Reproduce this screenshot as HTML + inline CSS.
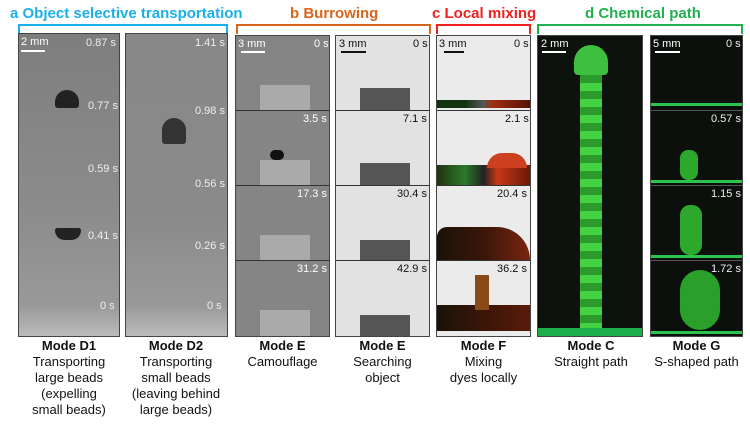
<!DOCTYPE html>
<html><head><meta charset="utf-8"><style>
body{margin:0;width:750px;height:425px;background:#fff;position:relative;overflow:hidden;font-family:"Liberation Sans",Arial,sans-serif}
div{position:absolute;box-sizing:border-box}
.t{font-weight:bold;font-size:15px;white-space:nowrap}
.br{height:10px;border:2px solid;border-bottom:none;top:24px}
.p{border:1px solid #444}
.s{font-size:11px;white-space:nowrap}
.lab{font-size:13px;text-align:center;line-height:16px;top:338px;color:#111}
.lab b{display:block}
.sb{height:2px}
</style></head><body>
<div class="t" style="left:10px;top:5px;color:#1ab0ec">a Object selective transportation</div>
<div class="t" style="left:290px;top:5px;color:#d8651c">b Burrowing</div>
<div class="t" style="left:432px;top:5px;color:#ee2020">c Local mixing</div>
<div class="t" style="left:585px;top:5px;color:#20b050">d Chemical path</div>
<div class="br" style="left:18px;width:210px;border-color:#1ab0ec"></div>
<div class="br" style="left:236px;width:195px;border-color:#d8651c"></div>
<div class="br" style="left:436px;width:95px;border-color:#ee2020"></div>
<div class="br" style="left:537px;width:206px;border-color:#20b050"></div>

<!-- a -->
<div class="p" style="left:18px;top:33px;width:102px;height:304px;background:linear-gradient(#7e7e7e,#8c8c8c 60%,#999 90%,#bbb)"></div>
<div class="p" style="left:125px;top:33px;width:103px;height:304px;background:linear-gradient(#888,#8a8a8a 60%,#999 90%,#bbb)"></div>
<div class="s" style="left:21px;top:36px;color:#fff">2 mm</div><div class="sb" style="left:21px;top:50px;width:24px;background:#fff"></div>
<div class="s" style="left:86px;top:37px;color:#eee">0.87 s</div>
<div class="s" style="left:88px;top:100px;color:#eee">0.77 s</div>
<div class="s" style="left:88px;top:163px;color:#eee">0.59 s</div>
<div class="s" style="left:88px;top:230px;color:#eee">0.41 s</div>
<div class="s" style="left:100px;top:300px;color:#eee">0 s</div>
<div class="s" style="left:195px;top:37px;color:#eee">1.41 s</div>
<div class="s" style="left:195px;top:105px;color:#eee">0.98 s</div>
<div class="s" style="left:195px;top:178px;color:#eee">0.56 s</div>
<div class="s" style="left:195px;top:240px;color:#eee">0.26 s</div>
<div class="s" style="left:207px;top:300px;color:#eee">0 s</div>
<div style="left:55px;top:90px;width:24px;height:18px;background:#222;border-radius:12px 12px 3px 3px"></div>
<div style="left:55px;top:228px;width:26px;height:12px;background:#222;border-radius:3px 3px 12px 12px"></div>
<div style="left:162px;top:118px;width:24px;height:26px;background:#333;border-radius:12px 12px 3px 3px"></div>

<!-- b -->
<div class="p" style="left:235px;top:35px;width:95px;height:302px;background:#858585"></div>
<div style="left:236px;top:110px;width:93px;height:1px;background:#333"></div>
<div style="left:236px;top:185px;width:93px;height:1px;background:#333"></div>
<div style="left:236px;top:260px;width:93px;height:1px;background:#333"></div>
<div style="left:260px;top:85px;width:50px;height:25px;background:#aaa"></div>
<div style="left:260px;top:160px;width:50px;height:25px;background:#aaa"></div>
<div style="left:260px;top:235px;width:50px;height:25px;background:#aaa"></div>
<div style="left:260px;top:310px;width:50px;height:26px;background:#aaa"></div>
<div style="left:270px;top:150px;width:14px;height:10px;background:#111;border-radius:6px"></div>
<div class="s" style="left:238px;top:38px;color:#fff">3 mm</div><div class="sb" style="left:241px;top:51px;width:24px;background:#fff"></div>
<div class="s" style="left:314px;top:38px;color:#fff">0 s</div>
<div class="s" style="left:303px;top:113px;color:#fff">3.5 s</div>
<div class="s" style="left:297px;top:188px;color:#fff">17.3 s</div>
<div class="s" style="left:297px;top:263px;color:#fff">31.2 s</div>

<div class="p" style="left:335px;top:35px;width:95px;height:302px;background:#e2e2e2"></div>
<div style="left:336px;top:110px;width:93px;height:1px;background:#333"></div>
<div style="left:336px;top:185px;width:93px;height:1px;background:#333"></div>
<div style="left:336px;top:260px;width:93px;height:1px;background:#333"></div>
<div style="left:360px;top:88px;width:50px;height:22px;background:#555"></div>
<div style="left:360px;top:163px;width:50px;height:22px;background:#555"></div>
<div style="left:360px;top:240px;width:50px;height:20px;background:#555"></div>
<div style="left:360px;top:315px;width:50px;height:21px;background:#555"></div>
<div class="s" style="left:339px;top:38px;color:#111">3 mm</div><div class="sb" style="left:341px;top:51px;width:25px;background:#111"></div>
<div class="s" style="left:413px;top:38px;color:#111">0 s</div>
<div class="s" style="left:403px;top:113px;color:#111">7.1 s</div>
<div class="s" style="left:397px;top:188px;color:#111">30.4 s</div>
<div class="s" style="left:397px;top:263px;color:#111">42.9 s</div>

<!-- c -->
<div class="p" style="left:436px;top:35px;width:95px;height:302px;background:#ebebeb"></div>
<div style="left:437px;top:110px;width:93px;height:1px;background:#333"></div>
<div style="left:437px;top:185px;width:93px;height:1px;background:#333"></div>
<div style="left:437px;top:260px;width:93px;height:1px;background:#333"></div>
<div style="left:437px;top:100px;width:93px;height:8px;background:linear-gradient(90deg,#113311 30%,#555 50%,#a03010 60%,#551108)"></div>
<div style="left:437px;top:165px;width:93px;height:20px;background:linear-gradient(90deg,#223311,#2a7a2a 30%,#222 50%,#c83818 65%,#6a1808)"></div>
<div style="left:487px;top:153px;width:40px;height:15px;background:#cc4020;border-radius:18px 18px 0 0"></div>
<div style="left:437px;top:227px;width:93px;height:33px;background:linear-gradient(90deg,#1a1208,#3a1608 50%,#7a2410);border-radius:12px 40px 0 0"></div>
<div style="left:437px;top:305px;width:93px;height:26px;background:linear-gradient(90deg,#1a1208,#3a1608 50%,#5a1a08)"></div>
<div style="left:475px;top:275px;width:14px;height:35px;background:#8a4a18"></div>
<div class="s" style="left:439px;top:38px;color:#111">3 mm</div><div class="sb" style="left:444px;top:51px;width:20px;background:#111"></div>
<div class="s" style="left:514px;top:38px;color:#111">0 s</div>
<div class="s" style="left:505px;top:113px;color:#111">2.1 s</div>
<div class="s" style="left:497px;top:188px;color:#111">20.4 s</div>
<div class="s" style="left:497px;top:263px;color:#111">36.2 s</div>

<!-- d -->
<div class="p" style="left:537px;top:35px;width:106px;height:302px;background:#0e120c"></div>
<div style="left:574px;top:45px;width:34px;height:30px;background:#3fbf3f;border-radius:17px 17px 4px 4px"></div>
<div style="left:580px;top:75px;width:22px;height:255px;background:repeating-linear-gradient(#2a9a2a 0 8px,#46d046 8px 16px)"></div>
<div style="left:538px;top:328px;width:104px;height:8px;background:#1fae4e"></div>
<div class="s" style="left:541px;top:38px;color:#fff">2 mm</div><div class="sb" style="left:542px;top:51px;width:24px;background:#fff"></div>

<div class="p" style="left:650px;top:35px;width:93px;height:302px;background:#0c100c"></div>
<div style="left:651px;top:110px;width:91px;height:1px;background:#555"></div>
<div style="left:651px;top:185px;width:91px;height:1px;background:#555"></div>
<div style="left:651px;top:260px;width:91px;height:1px;background:#555"></div>
<div style="left:651px;top:103px;width:91px;height:3px;background:#2cc44c"></div>
<div style="left:651px;top:180px;width:91px;height:3px;background:#2cc44c"></div>
<div style="left:651px;top:255px;width:91px;height:3px;background:#2cc44c"></div>
<div style="left:651px;top:331px;width:91px;height:3px;background:#2cc44c"></div>
<div style="left:680px;top:150px;width:18px;height:30px;background:#2ca82c;border-radius:8px"></div>
<div style="left:680px;top:205px;width:22px;height:50px;background:#2ca82c;border-radius:10px"></div>
<div style="left:680px;top:270px;width:40px;height:60px;background:#2aa02a;border-radius:20px"></div>
<div class="s" style="left:653px;top:38px;color:#fff">5 mm</div><div class="sb" style="left:655px;top:51px;width:25px;background:#fff"></div>
<div class="s" style="left:726px;top:38px;color:#eee">0 s</div>
<div class="s" style="left:711px;top:113px;color:#eee">0.57 s</div>
<div class="s" style="left:711px;top:188px;color:#eee">1.15 s</div>
<div class="s" style="left:711px;top:263px;color:#eee">1.72 s</div>

<!-- labels -->
<div class="lab" style="left:14px;width:110px"><b>Mode D1</b>Transporting<br>large beads<br>(expelling<br>small beads)</div>
<div class="lab" style="left:121px;width:110px"><b>Mode D2</b>Transporting<br>small beads<br>(leaving behind<br>large beads)</div>
<div class="lab" style="left:230px;width:105px"><b>Mode E</b>Camouflage</div>
<div class="lab" style="left:330px;width:105px"><b>Mode E</b>Searching<br>object</div>
<div class="lab" style="left:431px;width:105px"><b>Mode F</b>Mixing<br>dyes locally</div>
<div class="lab" style="left:535px;width:112px"><b>Mode C</b>Straight path</div>
<div class="lab" style="left:644px;width:105px"><b>Mode G</b>S-shaped path</div>
</body></html>
